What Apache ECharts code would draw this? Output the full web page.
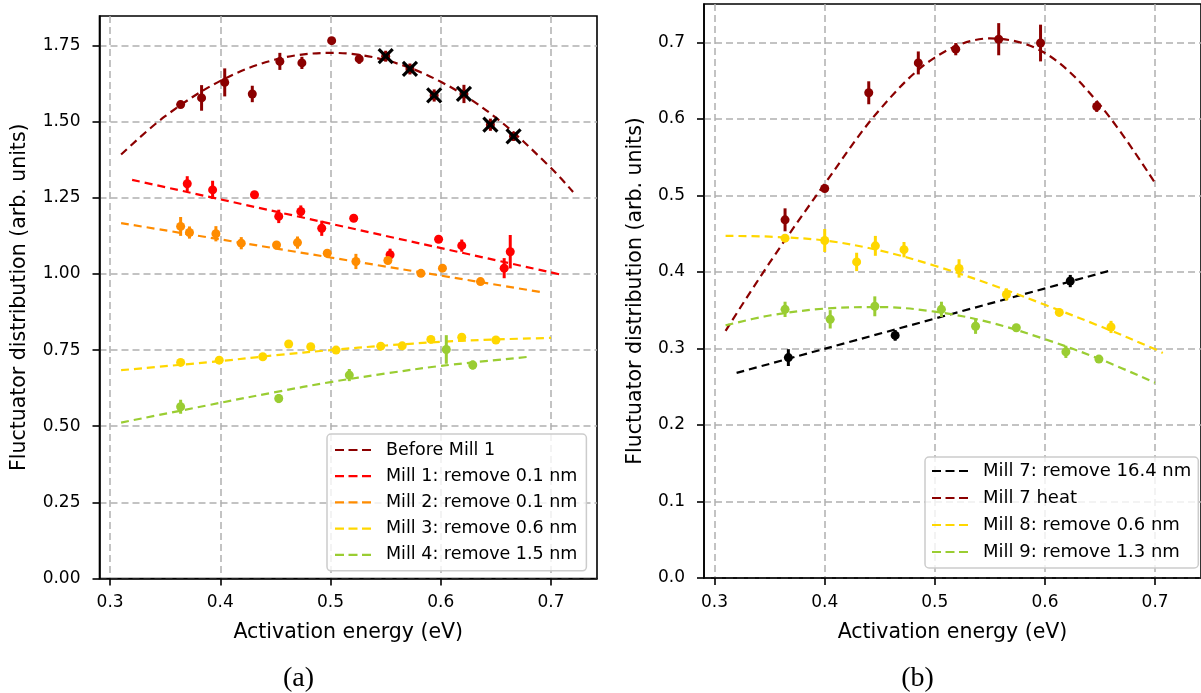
<!DOCTYPE html>
<html>
<head>
<meta charset="utf-8">
<script src="https://cdn.jsdelivr.net/npm/echarts@6/dist/echarts.min.js"></script>
<style>
html,body{margin:0;padding:0;background:#fff;}
#chart{width:1201px;height:693px;}
</style>
</head>
<body>
<div id="chart"></div>
<script>
// ---------- tick labels ----------
const xTicks = [0.3, 0.4, 0.5, 0.6, 0.7];
const yTicksA = [0, 0.25, 0.5, 0.75, 1.0, 1.25, 1.5, 1.75];
const yTicksB = [0, 0.1, 0.2, 0.3, 0.4, 0.5, 0.6, 0.7];

// ---------- panel (a) measured points ----------
const before_x = [0.364, 0.383, 0.404, 0.429, 0.454, 0.474, 0.501, 0.526, 0.550, 0.572, 0.594, 0.621, 0.645, 0.666];
const before_y = [1.556, 1.578, 1.629, 1.591, 1.698, 1.693, 1.766, 1.706, 1.715, 1.673, 1.586, 1.591, 1.490, 1.452];
const before_e = [0.008, 0.042, 0.046, 0.027, 0.028, 0.020, 0.010, 0.016, 0.018, 0.018, 0.020, 0.030, 0.020, 0.015];
const cross_x = [0.550, 0.572, 0.594, 0.621, 0.645, 0.666];
const cross_y = [1.715, 1.673, 1.586, 1.591, 1.490, 1.452];

const m1_x = [0.370, 0.393, 0.431, 0.453, 0.473, 0.492, 0.521, 0.554, 0.598, 0.619, 0.6575, 0.663];
const m1_y = [1.296, 1.276, 1.260, 1.189, 1.205, 1.150, 1.183, 1.063, 1.114, 1.093, 1.019, 1.073];
const m1_e = [0.025, 0.030, 0.010, 0.022, 0.020, 0.025, 0.010, 0.020, 0.006, 0.020, 0.033, 0.055];

const m2_x = [0.364, 0.372, 0.396, 0.419, 0.451, 0.470, 0.497, 0.523, 0.552, 0.582, 0.6015, 0.636];
const m2_y = [1.156, 1.136, 1.132, 1.101, 1.095, 1.103, 1.068, 1.041, 1.044, 1.002, 1.019, 0.975];
const m2_e = [0.031, 0.020, 0.025, 0.020, 0.006, 0.020, 0.006, 0.025, 0.008, 0.010, 0.010, 0.010];

const m3_x = [0.364, 0.399, 0.4385, 0.462, 0.482, 0.505, 0.5455, 0.565, 0.591, 0.619, 0.650];
const m3_y = [0.7095, 0.717, 0.728, 0.770, 0.761, 0.750, 0.763, 0.764, 0.785, 0.792, 0.783];
const m3_e = [0.006, 0.012, 0.008, 0.008, 0.010, 0.008, 0.008, 0.006, 0.006, 0.006, 0.006];

const m4_x = [0.364, 0.453, 0.517, 0.605, 0.629];
const m4_y = [0.564, 0.591, 0.668, 0.752, 0.701];
const m4_e = [0.023, 0.015, 0.020, 0.047, 0.015];

// ---------- panel (a) fit curves ----------
const fitBefore_x = [0.31, 0.35, 0.40, 0.45, 0.50, 0.55, 0.60, 0.65, 0.70, 0.72];
const fitBefore_y = [1.392, 1.518, 1.634, 1.704, 1.726, 1.702, 1.631, 1.513, 1.348, 1.269];
const fitM1_x = [0.32, 0.71];
const fitM1_y = [1.309, 0.997];
const fitM2_x = [0.31, 0.69];
const fitM2_y = [1.167, 0.941];
const fitM3_x = [0.31, 0.40, 0.45, 0.50, 0.55, 0.60, 0.65, 0.70];
const fitM3_y = [0.684, 0.714, 0.733, 0.750, 0.765, 0.777, 0.785, 0.790];
const fitM4_x = [0.31, 0.40, 0.45, 0.50, 0.55, 0.60, 0.68];
const fitM4_y = [0.512, 0.577, 0.612, 0.645, 0.673, 0.698, 0.728];

// ---------- panel (b) measured points ----------
const m7_x = [0.367, 0.464, 0.623];
const m7_y = [0.288, 0.317, 0.388];
const m7_e = [0.011, 0.007, 0.008];

const m7h_x = [0.364, 0.400, 0.440, 0.485, 0.519, 0.558, 0.596, 0.647];
const m7h_y = [0.468, 0.509, 0.634, 0.673, 0.691, 0.704, 0.699, 0.616];
const m7h_e = [0.015, 0.004, 0.015, 0.015, 0.008, 0.021, 0.024, 0.007];

const m8_x = [0.364, 0.400, 0.429, 0.446, 0.472, 0.522, 0.565, 0.613, 0.660];
const m8_y = [0.444, 0.441, 0.413, 0.434, 0.429, 0.4045, 0.3705, 0.347, 0.328];
const m8_e = [0.005, 0.015, 0.012, 0.013, 0.010, 0.012, 0.008, 0.005, 0.008];

const m9_x = [0.364, 0.405, 0.4455, 0.506, 0.537, 0.574, 0.619, 0.649];
const m9_y = [0.351, 0.338, 0.355, 0.351, 0.329, 0.327, 0.2955, 0.286];
const m9_e = [0.010, 0.012, 0.013, 0.010, 0.010, 0.005, 0.008, 0.005];

// ---------- panel (b) fit curves ----------
const fitM7_x = [0.32, 0.66];
const fitM7_y = [0.268, 0.402];
const fitM7h_x = [0.31, 0.35, 0.40, 0.45, 0.50, 0.55, 0.60, 0.65, 0.70];
const fitM7h_y = [0.323, 0.412, 0.515, 0.612, 0.680, 0.705, 0.686, 0.618, 0.516];
const fitM8_x = [0.31, 0.35, 0.40, 0.45, 0.50, 0.55, 0.60, 0.65, 0.70, 0.707];
const fitM8_y = [0.447, 0.446, 0.441, 0.428, 0.408, 0.384, 0.357, 0.329, 0.299, 0.294];
const fitM9_x = [0.31, 0.35, 0.40, 0.45, 0.50, 0.55, 0.60, 0.65, 0.70];
const fitM9_y = [0.330, 0.343, 0.352, 0.354, 0.348, 0.334, 0.312, 0.286, 0.255];

// ---------- names / colours ----------
const legendA = ['Before Mill 1', 'Mill 1: remove 0.1 nm', 'Mill 2: remove 0.1 nm', 'Mill 3: remove 0.6 nm', 'Mill 4: remove 1.5 nm'];
const legendB = ['Mill 7: remove 16.4 nm', 'Mill 7 heat', 'Mill 8: remove 0.6 nm', 'Mill 9: remove 1.3 nm'];
const C = { darkred: '#8b0000', red: '#ff0000', orange: '#ff8c00', gold: '#ffd700', green: '#9acd32', black: '#000000' };

const FONT = 'DejaVu Sans';
const DASH_ICON = 'path://M0,0H9V2.2H0Z M13.5,0H22.5V2.2H13.5Z M27,0H36V2.2H27Z';
const zip = (xs, ys) => xs.map((x, i) => [x, ys[i]]);

function fitSeries(name, gi, xs, ys, color) {
  return {
    type: 'line', name: name, xAxisIndex: gi, yAxisIndex: gi,
    data: zip(xs, ys), smooth: 0.35, symbol: 'none', showSymbol: false,
    lineStyle: { color: color, width: 2.2, type: [8, 5] },
    itemStyle: { color: color }, z: 2, silent: true
  };
}
function errSeries(id, gi, xs, ys, es, color) {
  return {
    type: 'custom', name: id, xAxisIndex: gi, yAxisIndex: gi,
    data: xs.map((x, i) => [x, ys[i], es[i]]),
    encode: { x: 0, y: 1 },
    renderItem: function (params, api) {
      const a = api.coord([api.value(0), api.value(1) + api.value(2)]);
      const b = api.coord([api.value(0), api.value(1) - api.value(2)]);
      return { type: 'line', shape: { x1: a[0], y1: a[1], x2: b[0], y2: b[1] },
               style: { stroke: color, lineWidth: 3 } };
    }, z: 3, silent: true
  };
}
function ptSeries(id, gi, xs, ys, color) {
  return {
    type: 'scatter', name: id, xAxisIndex: gi, yAxisIndex: gi,
    data: zip(xs, ys), symbol: 'circle', symbolSize: 9,
    itemStyle: { color: color, opacity: 1 }, z: 4, silent: true
  };
}
function crossSeries(id, gi, xs, ys) {
  return {
    type: 'custom', name: id, xAxisIndex: gi, yAxisIndex: gi,
    data: zip(xs, ys), encode: { x: 0, y: 1 },
    renderItem: function (params, api) {
      const c = api.coord([api.value(0), api.value(1)]);
      const s = 7;
      return { type: 'group', children: [
        { type: 'line', shape: { x1: c[0] - s, y1: c[1] - s, x2: c[0] + s, y2: c[1] + s }, style: { stroke: '#000', lineWidth: 3.2 } },
        { type: 'line', shape: { x1: c[0] - s, y1: c[1] + s, x2: c[0] + s, y2: c[1] - s }, style: { stroke: '#000', lineWidth: 3.2 } }
      ] };
    }, z: 5, silent: true
  };
}

function xAxisDef(gi) {
  return {
    type: 'value', gridIndex: gi, min: 0.2904, max: 0.7417,
    name: 'Activation energy (eV)', nameLocation: 'middle', nameGap: 44,
    nameTextStyle: { fontFamily: FONT, fontSize: 20.5, color: '#000' },
    axisLine: { show: true, onZero: false, lineStyle: { color: '#000', width: 1.6 } },
    axisTick: { show: true, length: 7, customValues: xTicks, lineStyle: { color: '#000', width: 1.6 } },
    axisLabel: { customValues: xTicks, margin: 16, fontFamily: FONT, fontSize: 17, color: '#000',
                 formatter: v => v.toFixed(1) },
    splitLine: { show: true, lineStyle: { color: '#b0b0b0', width: 1.5, type: [7, 4] } }
  };
}
function yAxisDef(gi, max, ticks, dec, gap) {
  return {
    type: 'value', gridIndex: gi, min: 0, max: max,
    name: 'Fluctuator distribution (arb. units)', nameLocation: 'middle', nameGap: gap, nameRotate: 90,
    nameTextStyle: { fontFamily: FONT, fontSize: 20.5, color: '#000' },
    axisLine: { show: true, onZero: false, lineStyle: { color: '#000', width: 1.6 } },
    axisTick: { show: true, length: 7, customValues: ticks, lineStyle: { color: '#000', width: 1.6 } },
    axisLabel: { customValues: ticks, margin: 19, fontFamily: FONT, fontSize: 17, color: '#000',
                 formatter: v => v.toFixed(dec) },
    splitLine: { show: true, lineStyle: { color: '#b0b0b0', width: 1.5, type: [7, 4] } }
  };
}
function legendDef(names, left, top, pad, gap, fs) {
  return {
    data: names.map(n => ({ name: n, icon: DASH_ICON })),
    orient: 'vertical', left: left, top: top,
    itemWidth: 36, itemHeight: 2.2, itemGap: gap,
    padding: pad,
    backgroundColor: 'rgba(255,255,255,0.8)', borderColor: '#cccccc', borderWidth: 1.5, borderRadius: 4,
    textStyle: { fontFamily: FONT, fontSize: fs, color: '#000', lineHeight: 18, padding: [0, 0, 0, 10] },
    selectedMode: false
  };
}

const chart = echarts.init(document.getElementById('chart'), null, { renderer: 'canvas' });
chart.setOption({
  backgroundColor: '#ffffff',
  animation: false,
  grid: [
    { left: 99.5, top: 16, width: 497.5, height: 562.5, show: true, borderColor: '#000', borderWidth: 1.6, backgroundColor: 'transparent' },
    { left: 704, top: 4, width: 519, height: 574, show: true, borderColor: '#000', borderWidth: 1.6, backgroundColor: 'transparent' }
  ],
  xAxis: [xAxisDef(0), xAxisDef(1)],
  yAxis: [yAxisDef(0, 1.847, yTicksA, 2, 69), yAxisDef(1, 0.75, yTicksB, 1, 58)],
  legend: [
    legendDef(legendA, 327, 434, [7, 9, 7, 8], 8.2, 17.5),
    legendDef(legendB, 925, 457, [5, 7, 7, 7], 9, 18)
  ],
  graphic: [
    { type: 'text', x: 298.5, y: 679, style: { text: '(a)', font: '28px "Liberation Serif"', fill: '#000', align: 'center', verticalAlign: 'middle' } },
    { type: 'text', x: 917.5, y: 679, style: { text: '(b)', font: '28px "Liberation Serif"', fill: '#000', align: 'center', verticalAlign: 'middle' } }
  ],
  series: [
    fitSeries(legendA[0], 0, fitBefore_x, fitBefore_y, C.darkred),
    fitSeries(legendA[1], 0, fitM1_x, fitM1_y, C.red),
    fitSeries(legendA[2], 0, fitM2_x, fitM2_y, C.orange),
    fitSeries(legendA[3], 0, fitM3_x, fitM3_y, C.gold),
    fitSeries(legendA[4], 0, fitM4_x, fitM4_y, C.green),
    errSeries('eb0', 0, before_x, before_y, before_e, C.darkred),
    errSeries('e1', 0, m1_x, m1_y, m1_e, C.red),
    errSeries('e2', 0, m2_x, m2_y, m2_e, C.orange),
    errSeries('e3', 0, m3_x, m3_y, m3_e, C.gold),
    errSeries('e4', 0, m4_x, m4_y, m4_e, C.green),
    ptSeries('pb0', 0, before_x, before_y, C.darkred),
    ptSeries('p1', 0, m1_x, m1_y, C.red),
    ptSeries('p2', 0, m2_x, m2_y, C.orange),
    ptSeries('p3', 0, m3_x, m3_y, C.gold),
    ptSeries('p4', 0, m4_x, m4_y, C.green),
    crossSeries('cross', 0, cross_x, cross_y),

    fitSeries(legendB[0], 1, fitM7_x, fitM7_y, C.black),
    fitSeries(legendB[1], 1, fitM7h_x, fitM7h_y, C.darkred),
    fitSeries(legendB[2], 1, fitM8_x, fitM8_y, C.gold),
    fitSeries(legendB[3], 1, fitM9_x, fitM9_y, C.green),
    errSeries('e7', 1, m7_x, m7_y, m7_e, C.black),
    errSeries('e7h', 1, m7h_x, m7h_y, m7h_e, C.darkred),
    errSeries('e8', 1, m8_x, m8_y, m8_e, C.gold),
    errSeries('e9', 1, m9_x, m9_y, m9_e, C.green),
    ptSeries('p7', 1, m7_x, m7_y, C.black),
    ptSeries('p7h', 1, m7h_x, m7h_y, C.darkred),
    ptSeries('p8', 1, m8_x, m8_y, C.gold),
    ptSeries('p9', 1, m9_x, m9_y, C.green)
  ]
});
</script>
</body>
</html>
